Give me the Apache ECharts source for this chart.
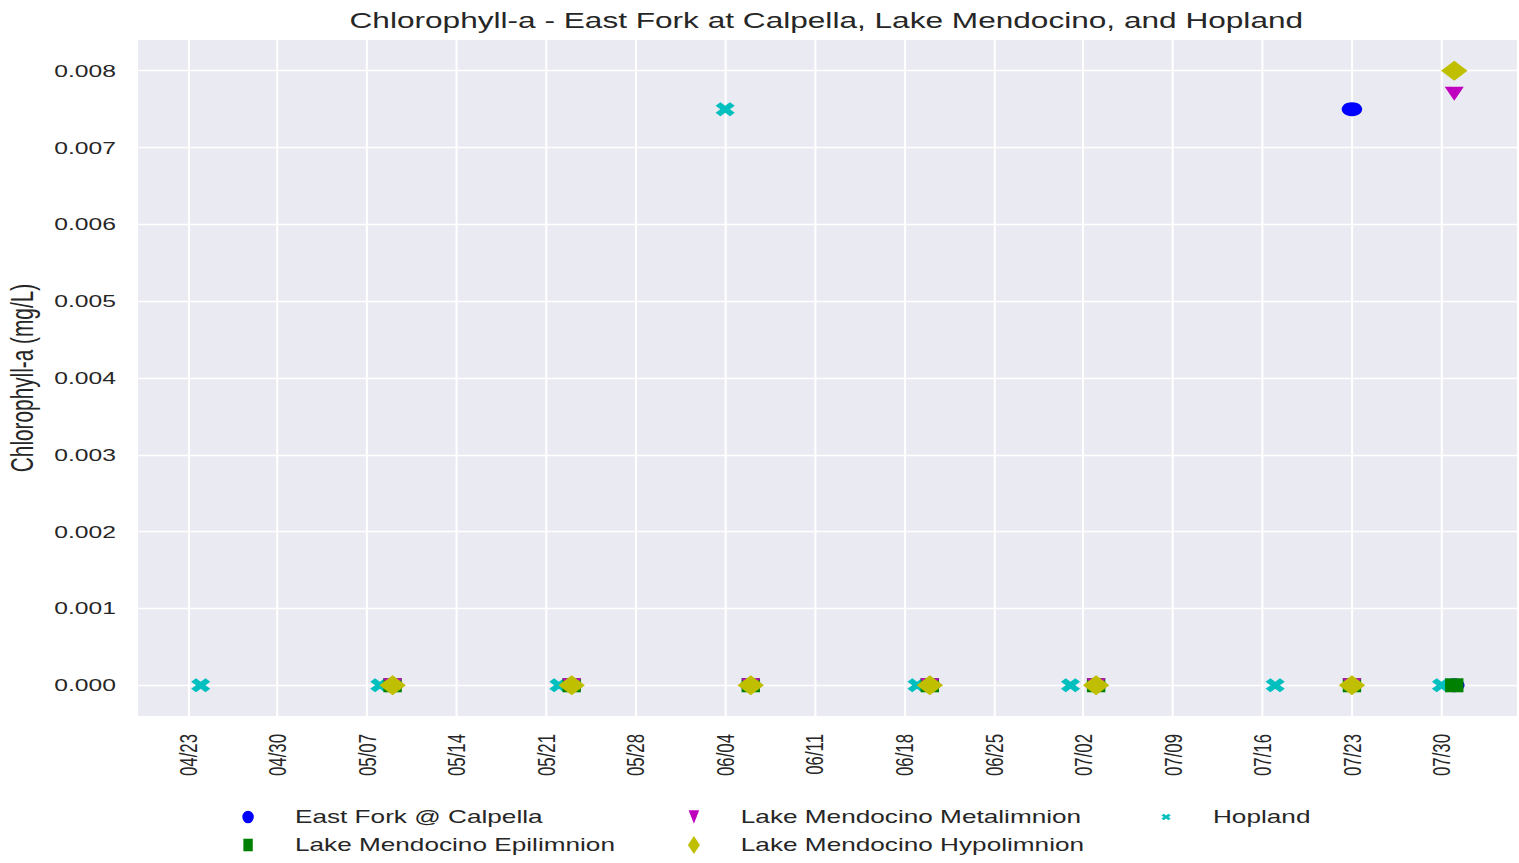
<!DOCTYPE html>
<html>
<head>
<meta charset="utf-8">
<script src="https://cdn.jsdelivr.net/npm/echarts@6/dist/echarts.min.js"></script>
<style>
  html, body { margin: 0; padding: 0; background: #ffffff; overflow: hidden; }
  #chart { width: 1033px; height: 863px; transform: scaleX(1.47047); transform-origin: 0 0; }
</style>
</head>
<body>
<div id="chart"></div>
<script>
// ---- data ----
const titleText = 'Chlorophyll-a - East Fork at Calpella, Lake Mendocino, and Hopland';
const yAxisName = 'Chlorophyll-a (mg/L)';

const seriesNames = ['East Fork @ Calpella', 'Lake Mendocino Epilimnion', 'Lake Mendocino Metalimnion', 'Lake Mendocino Hypolimnion', 'Hopland'];

const lakeDates = ['2018-05-09', '2018-05-23', '2018-06-06', '2018-06-20', '2018-07-03', '2018-07-23', '2018-07-31'];
const eastForkValues = [0, 0, 0, 0, 0, 0.0075, 0];
const epilimnionValues = [0, 0, 0, 0, 0, 0, 0];
const metalimnionValues = [0, 0, 0, 0, 0, 0, 0.0077];
const hypolimnionValues = [0, 0, 0, 0, 0, 0, 0.0080];

const hoplandDates = ['2018-04-24', '2018-05-08', '2018-05-22', '2018-06-04', '2018-06-19', '2018-07-01', '2018-07-17', '2018-07-30'];
const hoplandValues = [0, 0, 0, 0.0075, 0, 0, 0, 0];

const xTickDates = ['2018-04-23', '2018-04-30', '2018-05-07', '2018-05-14', '2018-05-21', '2018-05-28', '2018-06-04', '2018-06-11', '2018-06-18', '2018-06-25', '2018-07-02', '2018-07-09', '2018-07-16', '2018-07-23', '2018-07-30'];
const xTickLabels = ['04/23', '04/30', '05/07', '05/14', '05/21', '05/28', '06/04', '06/11', '06/18', '06/25', '07/02', '07/09', '07/16', '07/23', '07/30'];
const yTickValues = [0, 0.001, 0.002, 0.003, 0.004, 0.005, 0.006, 0.007, 0.008];
const yTickLabels = ['0.000', '0.001', '0.002', '0.003', '0.004', '0.005', '0.006', '0.007', '0.008'];

// ---- helpers ----
function ts(s) { const p = s.split('-').map(Number); return Date.UTC(p[0], p[1] - 1, p[2]); }
function pairs(dates, vals) { return dates.map((d, i) => [ts(d), vals[i]]); }

const allX = lakeDates.concat(hoplandDates).map(ts);
const xLo = Math.min.apply(null, allX), xHi = Math.max.apply(null, allX);
const xPad = (xHi - xLo) * 0.05;
const allY = [].concat(eastForkValues, epilimnionValues, metalimnionValues, hypolimnionValues, hoplandValues);
const yLo = Math.min.apply(null, allY), yHi = Math.max.apply(null, allY);
const yPad = (yHi - yLo) * 0.05;

const xTickTs = xTickDates.map(ts);

const TEXT = '#262626';
const FONT = 'Liberation Sans, Arial, sans-serif';

const xShape = 'path://M3,0L4,1L3,2L4,3L3,4L2,3L1,4L0,3L1,2L0,1L1,0L2,1Z';
const vShape = 'path://M0,0L10,0L5,10Z';

function scatter(name, data, symbol, size, color, z) {
  return {
    name: name, type: 'scatter', data: data, symbol: symbol, symbolSize: size,
    symbolKeepAspect: false,
    itemStyle: { color: color, opacity: 1 }, z: z,
    emphasis: { disabled: true }, animation: false
  };
}

// legend: one component per entry, marker centre x and row centre y
function legend(name, icon, w, h, cx, cy) {
  return {
    data: [{ name: name, icon: icon }],
    orient: 'vertical', left: cx - w / 2, top: cy - 10,
    itemWidth: w, itemHeight: h, padding: 0, selectedMode: false,
    textStyle: { color: TEXT, fontFamily: FONT, fontSize: 17.8, lineHeight: 20, padding: [0, 0, 0, 31.9 - w / 2 - 5] }
  };
}

const chart = echarts.init(document.getElementById('chart'), null, { renderer: 'svg' });
chart.setOption({
  backgroundColor: '#ffffff',
  animation: false,
  title: {
    text: titleText, left: 237.7, top: 10, padding: 0,
    textStyle: { color: TEXT, fontFamily: FONT, fontSize: 21.5, fontWeight: 'normal' }
  },
  legend: [
    legend(seriesNames[0], 'path://M0,5.5A3.4,5.5,0,1,1,6.8,5.5A3.4,5.5,0,1,1,0,5.5Z', 7.8, 12.6, 168.7, 817),
    legend(seriesNames[1], 'path://M0,0L5.6,0L5.6,11L0,11Z', 6.4, 12.6, 168.7, 845),
    legend(seriesNames[2], 'path://M0,0L6.3,0L3.15,11.7Z', 7.2, 13.4, 471.9, 817),
    legend(seriesNames[3], 'path://M4.1,0L8.2,9L4.1,18L0,9Z', 8.2, 18, 471.9, 845),
    legend(seriesNames[4], 'path://M3,0L4,1L3,2L4,3L3,4L2,3L1,4L0,3L1,2L0,1L1,0L2,1Z', 6.4, 9.8, 793, 817)
  ],
  grid: { left: 93.9, right: 1.4, top: 40, bottom: 147, outerBoundsMode: 'none', containLabel: false, show: true, backgroundColor: '#EAEAF2', borderWidth: 0 },
  xAxis: {
    type: 'value', min: xLo - xPad, max: xHi + xPad,
    axisLine: { show: false }, axisTick: { show: false, customValues: xTickTs },
    splitLine: { show: true, lineStyle: { color: '#ffffff', width: 1.4 } },
    axisLabel: {
      customValues: xTickTs, rotate: 90, margin: 18, color: TEXT, fontFamily: FONT, fontSize: 16.8,
      formatter: function (v) { const i = xTickTs.indexOf(v); return i >= 0 ? xTickLabels[i] : ''; }
    }
  },
  yAxis: {
    type: 'value', min: yLo - yPad, max: yHi + yPad,
    name: yAxisName, nameLocation: 'middle', nameGap: 67,
    nameTextStyle: { color: TEXT, fontFamily: FONT, fontSize: 20.8 },
    axisLine: { show: false }, axisTick: { show: false, customValues: yTickValues },
    splitLine: { show: true, lineStyle: { color: '#ffffff', width: 1.4 } },
    axisLabel: {
      customValues: yTickValues, margin: 15, color: TEXT, fontFamily: FONT, fontSize: 16.8,
      formatter: function (v) { let i = -1; yTickValues.forEach((t, k) => { if (Math.abs(t - v) < 1e-9) i = k; }); return i >= 0 ? yTickLabels[i] : ''; }
    }
  },
  series: [
    scatter(seriesNames[0], pairs(lakeDates, eastForkValues), 'circle', 14, '#0000FF', 2),
    scatter(seriesNames[4], pairs(hoplandDates, hoplandValues), xShape, [13, 14], '#00BFBF', 3),
    scatter(seriesNames[1], pairs(lakeDates, epilimnionValues), 'rect', [12.5, 14], '#008000', 4),
    scatter(seriesNames[2], pairs(lakeDates, metalimnionValues), vShape, [13, 14], '#BF00BF', 5),
    scatter(seriesNames[3], pairs(lakeDates, hypolimnionValues), 'diamond', [18, 20], '#BFBF00', 6)
  ]
});
</script>
</body>
</html>
